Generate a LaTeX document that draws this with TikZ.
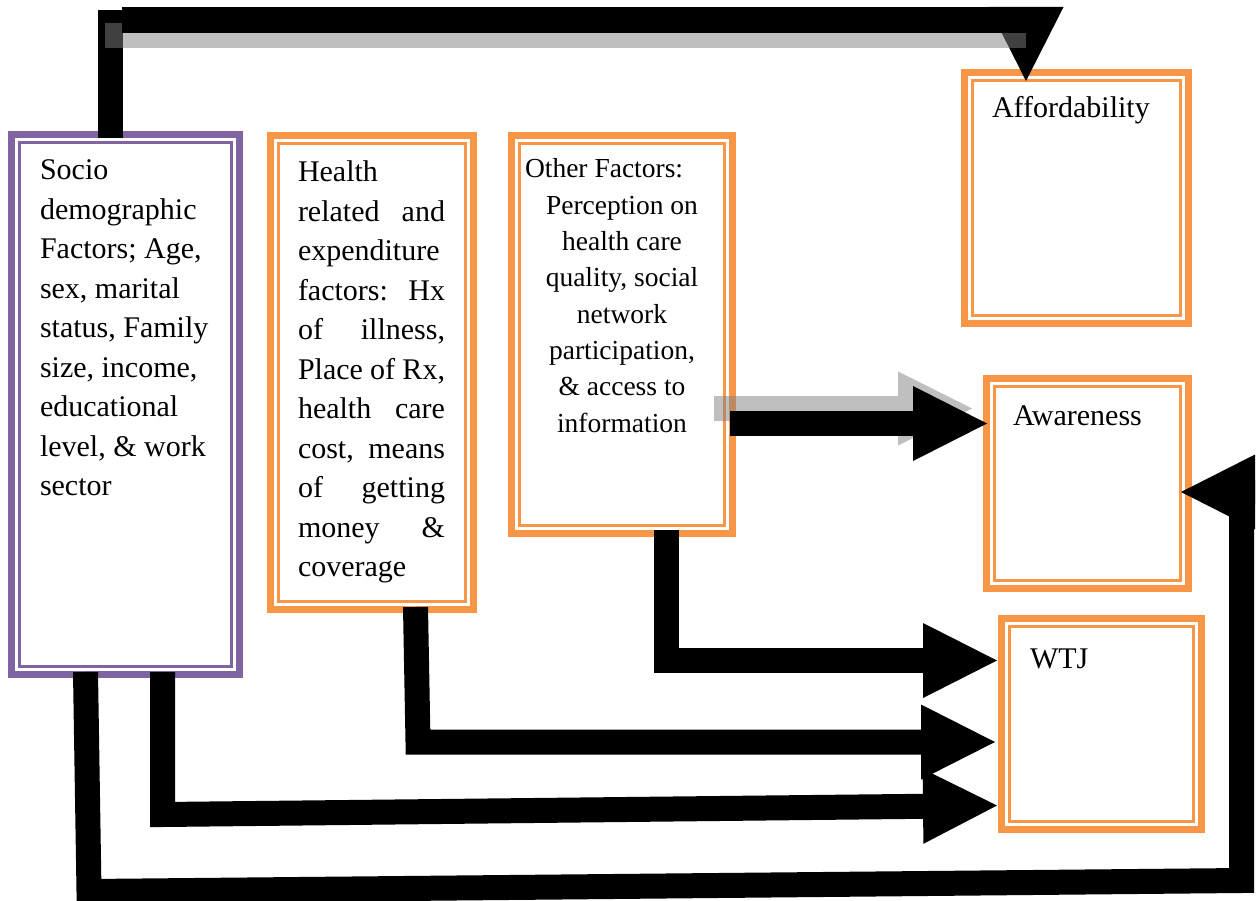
\documentclass[tikz,border=0pt]{standalone}
\usepackage{fontspec}
\setmainfont{Liberation Serif}
\usetikzlibrary{arrows.meta,calc}
\definecolor{boxorange}{HTML}{F79646}
\definecolor{boxpurple}{HTML}{8064A2}
% one justified line of the health box
\newcommand\jline[1]{\hbox to 147pt{#1}}
\begin{document}
\begin{tikzpicture}[x=1pt,y=-1pt,
  dbox/.style={draw=#1, line width=7pt, inner sep=0pt, outer sep=0pt,
    anchor=north west, fill=white,
    path picture={\draw[#1, line width=2.5pt]
      ([xshift=8pt,yshift=-8pt]path picture bounding box.north west) rectangle
      ([xshift=-8pt,yshift=8pt]path picture bounding box.south east);}},
  txt/.style={anchor=base west, inner sep=0pt, outer sep=0pt},
  fatbar/.style={draw=black, line width=25pt, line join=miter},
  bigtip/.style={-{Triangle[width=75pt,length=74pt,line width=0pt]}},
  dropshade/.style={fill=gray, fill opacity=0.5},
]
\useasboundingbox (0,0) rectangle (1260,901);
\clip (0,0) rectangle (1260,901);

% boxes
\node[dbox=boxpurple, minimum width=228pt, minimum height=540pt] (socio)  at (11.5,134.5) {};
\node[dbox=boxorange, minimum width=203pt, minimum height=474pt] (health) at (270.5,135.5) {};
\node[dbox=boxorange, minimum width=221pt, minimum height=398pt] (other)  at (511.5,135.5) {};
\node[dbox=boxorange, minimum width=224pt, minimum height=251pt] (afford) at (964.5,72.5) {};
\node[dbox=boxorange, minimum width=202pt, minimum height=210pt] (aware)  at (986.5,378.5) {};
\node[dbox=boxorange, minimum width=200pt, minimum height=211pt] (wtj)    at (1001.5,618.5) {};

% texts
\node[txt] (sociotext) at (40,180) {\vtop{\hsize=200pt\parindent=0pt\fontsize{30}{39.5}\selectfont
  Socio\par demographic\par Factors; Age,\par sex, marital\par status, Family\par
  size, income,\par educational\par level, \& work\par sector\par}};

\node[txt] (healthtext) at (298,182) {\vtop{\hsize=147pt\parindent=0pt\fontsize{30}{39.5}\selectfont
  \hbox{Health}
  \jline{related\hfill and}
  \hbox{expenditure}
  \jline{factors:\hfill Hx}
  \jline{of\hfill illness,}
  \jline{Place\hfill of\hfill Rx,}
  \jline{health\hfill care}
  \jline{cost,\hfill means}
  \jline{of\hfill getting}
  \jline{money\hfill \&}
  \hbox{coverage}}};

\node[txt] (othertext) at (525,178) {\vtop{\hsize=194pt\parindent=0pt\fontsize{27.5}{36.3}\selectfont
  Other Factors:\par\centering
  Perception on\par health care\par quality, social\par network\par
  participation,\par \& access to\par information\par}};

\node[txt] (afftext) at (992,118) {\fontsize{30}{36}\selectfont Affordability};
\node[txt] (awaretext) at (1013,425) {\fontsize{30}{36}\selectfont Awareness};
\node[txt] (wtjtext) at (1030,668) {\fontsize{30}{36}\selectfont WTJ};

% socio -> affordability, over the top
\coordinate (tL) at (110.5,10);
\coordinate (tR) at (1026,20);
\draw[fatbar, line width=24.5pt] ([xshift=-15pt,yshift=-3.5pt]socio.north) -- (tL);
\draw[fatbar, bigtip] (tR) -- ([xshift=-50.5pt,yshift=-8.5pt]afford.north);
\fill[dropshade] (105,23) rectangle (1026,48);
\draw[fatbar, line width=26pt] ($(tL |- tR)+(11.5,0)$) -- (tR);

% other factors -> awareness
\coordinate (awTip) at ($(aware.west)+(0.5,-60)$);
\fill[dropshade] (714,396) -- (898,396) -- (898,371.5) -- (972,408.5)
  -- (898,445.5) -- (898,421) -- (714,421) -- cycle;
\draw[fatbar, bigtip] ([xshift=-2.5pt]other.east |- awTip) -- (awTip);

% other factors -> WTJ
\draw[fatbar, bigtip] ([xshift=44.5pt,yshift=3.5pt]other.south)
  |- ([xshift=-4.5pt,yshift=63.5pt]wtj.west);

% health -> WTJ
\coordinate (hC) at (418,742);
\draw[fatbar, bigtip] ([xshift=43.5pt,yshift=2.5pt]health.south) -- (hC)
  -- ([xshift=-6.5pt,yshift=-18pt]wtj.west);

% socio -> WTJ
\coordinate (sC) at (162.5,814.5);
\draw[fatbar, bigtip] ([xshift=37pt,yshift=2.5pt]socio.south) -- (sC)
  -- ([xshift=-4.5pt,yshift=-81.5pt]wtj.west);

% socio -> awareness, round the bottom and up the right side
\coordinate (lA) at (89,891.5);
\coordinate (lB) at (1241.5,880.5);
\coordinate (lC) at (1241.5,492);
\draw[fatbar, bigtip] ([xshift=-40pt,yshift=2.5pt]socio.south) -- (lA) -- (lB) -- (lC)
  -- ([xshift=-7.5pt,yshift=-8.5pt]aware.east);
\end{tikzpicture}
\end{document}
